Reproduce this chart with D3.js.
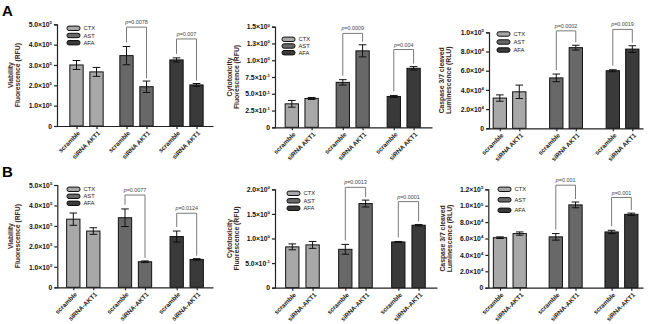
<!DOCTYPE html>
<html>
<head>
<meta charset="utf-8">
<script src="https://cdn.jsdelivr.net/npm/d3@7"></script>
<style>
  body { margin: 0; background: #fff; }
  svg { display: block; font-family: Arial, "Liberation Sans", sans-serif; }
</style>
</head>
<body>
<script>
// groups and conditions
const groups = ["CTX", "AST", "AFA"];
const conditions = ["scramble", "siRNA-AKT1"];
const colors = ["#a8a8a8", "#686868", "#3a3a3a"];

// values, order: CTX-scr, CTX-si, AST-scr, AST-si, AFA-scr, AFA-si
const viabA = [3.0e5, 2.66e5, 3.46e5, 1.93e5, 3.25e5, 2.02e5];
const viabAErr = [0.22e5, 0.22e5, 0.45e5, 0.28e5, 0.1e5, 0.07e5];
const cytoA = [0.35, 0.43, 0.67, 1.14, 0.46, 0.88];
const cytoAErr = [0.05, 0.015, 0.04, 0.09, 0.015, 0.025];
const caspA = [3.15e4, 3.8e4, 5.25e4, 8.4e4, 6.0e4, 8.25e4];
const caspAErr = [0.33e4, 0.7e4, 0.4e4, 0.25e4, 0.1e4, 0.35e4];

const viabB = [3.33e5, 2.75e5, 3.4e5, 1.25e5, 2.48e5, 1.36e5];
const viabBErr = [0.3e5, 0.16e5, 0.43e5, 0.04e5, 0.27e5, 0.04e5];
const cytoB = [0.83, 0.87, 0.78, 1.71, 0.93, 1.27];
const cytoBErr = [0.06, 0.07, 0.1, 0.07, 0.01, 0.015];
const caspB = [6.1e4, 6.6e4, 6.2e4, 10.1e4, 6.8e4, 8.95e4];
const caspBErr = [0.1e4, 0.2e4, 0.4e4, 0.35e4, 0.2e4, 0.15e4];

// significance brackets (AST, AFA): p text and top level in data units
const pA1 = ["p=0.0078", "p=0.007"],  topA1 = [4.86e5, 4.28e5];
const pA2 = ["p=0.0009", "p=0.004"],  topA2 = [1.40, 1.16];
const pA3 = ["p=0.0002", "p=0.0019"], topA3 = [10.15e4, 10.3e4];
const pB1 = ["p=0.0077", "p=0.0124"], topB1 = [4.51e5, 3.62e5];
const pB2 = ["p=0.0013", "p=0.0001"], topB2 = [2.04, 1.75];
const pB3 = ["p=0.001", "p=0.001"],   topB3 = [12.5e4, 11.0e4];

// y ticks
const viabTicks = [0, 1e5, 2e5, 3e5, 4e5, 5e5];
const viabLabels = ["0", "1.0×10^5", "2.0×10^5", "3.0×10^5", "4.0×10^5", "5.0×10^5"];
const cytoATicks = [0, 0.25, 0.5, 0.75, 1.0, 1.25, 1.5];
const cytoALabels = ["0", "2.5×10^-1", "5.0×10^-1", "7.5×10^-1", "1.0×10^0", "1.3×10^0", "1.5×10^0"];
const caspATicks = [0, 2e4, 4e4, 6e4, 8e4, 1e5];
const caspALabels = ["0", "2.0×10^4", "4.0×10^4", "6.0×10^4", "8.0×10^4", "1.0×10^5"];
const cytoBTicks = [0, 0.5, 1.0, 1.5, 2.0];
const cytoBLabels = ["0", "5.0×10^-1", "1.0×10^0", "1.5×10^0", "2.0×10^0"];
const caspBTicks = [0, 2e4, 4e4, 6e4, 8e4, 1e5, 1.2e5];
const caspBLabels = ["0", "2.0×10^4", "4.0×10^4", "6.0×10^4", "8.0×10^4", "1.0×10^5", "1.2×10^5"];

const viabTitle = ["Viability", "Fluorescence (RFU)"];
const cytoTitle = ["Cytotoxicity", "Fluorescence (RFU)"];
const caspTitle = ["Caspase 3/7 cleaved", "Luminescence (RLU)"];

// layout of each panel (pixels)
const panels = [
  {vals: viabA, err: viabAErr, ticks: viabTicks, labels: viabLabels, title: viabTitle, p: pA1, top: topA1,
   x0: 57, x1: 213, yTop: 24.3, yBot: 126, first: 76.5, pair: 20, grp: 50, legX: 67, legY: 28.3, legDy: 7.2, titleX: 13, si: "siRNA AKT1"},
  {vals: cytoA, err: cytoAErr, ticks: cytoATicks, labels: cytoALabels, title: cytoTitle, p: pA2, top: topA2,
   x0: 275, x1: 432, yTop: 26.7, yBot: 127.3, first: 291.8, pair: 19.8, grp: 51, legX: 282, legY: 39.3, legDy: 6.7, titleX: 232, si: "siRNA AKT1"},
  {vals: caspA, err: caspAErr, ticks: caspATicks, labels: caspALabels, title: caspTitle, p: pA3, top: topA3,
   x0: 489, x1: 643, yTop: 32.3, yBot: 128.3, first: 499.8, pair: 19.5, grp: 56.5, legX: 497, legY: 34, legDy: 8, titleX: 443.5, si: "siRNA AKT1"},
  {vals: viabB, err: viabBErr, ticks: viabTicks, labels: viabLabels, title: viabTitle, p: pB1, top: topB1,
   x0: 57.3, x1: 213, yTop: 185, yBot: 287.3, first: 73.3, pair: 20, grp: 51.7, legX: 67, legY: 189.3, legDy: 7, titleX: 13, si: "siRNA-AKT1"},
  {vals: cytoB, err: cytoBErr, ticks: cytoBTicks, labels: cytoBLabels, title: cytoTitle, p: pB2, top: topB2,
   x0: 275, x1: 437, yTop: 189.3, yBot: 287.7, first: 292.3, pair: 20.3, grp: 53, legX: 287, legY: 193.3, legDy: 7.5, titleX: 232, si: "siRNA-AKT1"},
  {vals: caspB, err: caspBErr, ticks: caspBTicks, labels: caspBLabels, title: caspTitle, p: pB3, top: topB3,
   x0: 488.3, x1: 643, yTop: 189.3, yBot: 287.7, first: 500, pair: 19.7, grp: 55.8, legX: 498, legY: 189.3, legDy: 10.5, titleX: 445, si: "siRNA-AKT1"}
];

const svg = d3.select("body").append("svg")
  .attr("width", 650).attr("height", 324);

// panel letters
svg.append("text").attr("x", 2).attr("y", 15.5).attr("font-size", 15).attr("font-weight", "bold").text("A");
svg.append("text").attr("x", 2).attr("y", 176.5).attr("font-size", 15).attr("font-weight", "bold").text("B");

const barW = 13.3;

panels.forEach(P => {
  const g = svg.append("g");

  const y = d3.scaleLinear()
    .domain([0, d3.max(P.ticks)])
    .range([P.yBot, P.yTop]);

  const gStart = P.first + P.pair / 2 - P.grp / 2;
  const outer = d3.scaleBand().domain(groups).range([gStart, gStart + 3 * P.grp]);
  const inner = d3.scaleBand().domain(conditions)
    .range([P.grp / 2 - P.pair, P.grp / 2 + P.pair]);
  const cx = (gi, ci) => outer(groups[gi]) + inner(conditions[ci]) + inner.bandwidth() / 2;

  // rows: one per bar
  const rows = P.vals.map((v, i) => ({g: Math.floor(i / 2), c: i % 2, v: v, e: P.err[i]}));

  // bars
  g.selectAll("rect.bar").data(rows).join("rect")
    .attr("class", "bar")
    .attr("x", d => cx(d.g, d.c) - barW / 2)
    .attr("width", barW)
    .attr("y", d => y(d.v))
    .attr("height", d => P.yBot - y(d.v))
    .attr("fill", d => colors[d.g])
    .attr("stroke", "#111")
    .attr("stroke-width", 1);

  // error bars
  const eb = g.selectAll("g.err").data(rows).join("g").attr("class", "err")
    .attr("stroke", "#111").attr("stroke-width", 1);
  eb.append("line")
    .attr("x1", d => cx(d.g, d.c)).attr("x2", d => cx(d.g, d.c))
    .attr("y1", d => y(d.v + d.e)).attr("y2", d => y(d.v - d.e));
  eb.append("line")
    .attr("x1", d => cx(d.g, d.c) - 3.8).attr("x2", d => cx(d.g, d.c) + 3.8)
    .attr("y1", d => y(d.v + d.e)).attr("y2", d => y(d.v + d.e));
  eb.append("line")
    .attr("x1", d => cx(d.g, d.c) - 3.8).attr("x2", d => cx(d.g, d.c) + 3.8)
    .attr("y1", d => y(d.v - d.e)).attr("y2", d => y(d.v - d.e));

  // y axis
  const yAxis = d3.axisLeft(y).tickValues(P.ticks).tickSize(3).tickPadding(2);
  const ya = g.append("g").attr("transform", `translate(${P.x0},0)`).call(yAxis);
  ya.select(".domain").attr("stroke", "#222").attr("stroke-width", 1.2);
  ya.selectAll(".tick line").attr("stroke", "#222").attr("stroke-width", 1.2);
  ya.selectAll(".tick text")
    .attr("font-size", 6.8).attr("font-weight", "bold").attr("fill", "#111")
    .attr("font-family", "Arial, 'Liberation Sans', sans-serif")
    .each(function (d, i) {
      const parts = P.labels[i].split("^");
      const t = d3.select(this).text(parts[0]);
      if (parts[1]) t.append("tspan").attr("dy", -2.8).attr("font-size", 4.3).text(parts[1]);
    });

  // x axis line + ticks
  const xs = d3.scaleLinear().domain([P.x0, P.x1]).range([P.x0, P.x1]);
  const xAxis = d3.axisBottom(xs).tickValues(rows.map(d => cx(d.g, d.c)))
    .tickSize(3).tickSizeOuter(0).tickFormat("");
  const xa = g.append("g").attr("transform", `translate(0,${P.yBot})`).call(xAxis);
  xa.select(".domain").attr("stroke", "#222").attr("stroke-width", 1.2);
  xa.selectAll(".tick line").attr("stroke", "#222").attr("stroke-width", 1.2);

  // rotated category labels
  g.selectAll("text.xl").data(rows).join("text")
    .attr("class", "xl")
    .attr("transform", d => `translate(${cx(d.g, d.c) + 2.5},${P.yBot + 6}) rotate(-45)`)
    .attr("text-anchor", "end")
    .attr("dy", "0.35em")
    .attr("font-size", 6.3).attr("font-weight", "bold").attr("fill", "#221a12")
    .text(d => d.c === 0 ? "scramble" : P.si);

  // y title
  const midY = (P.yTop + P.yBot) / 2;
  P.title.forEach((t, k) => {
    g.append("text")
      .attr("transform", `translate(${P.titleX + k * 7.3},${midY}) rotate(-90)`)
      .attr("text-anchor", "middle")
      .attr("font-size", 6.8).attr("font-weight", "bold").attr("fill", "#3a2616")
      .text(t);
  });

  // legend
  groups.forEach((name, k) => {
    const ly = P.legY + k * P.legDy;
    g.append("rect")
      .attr("x", P.legX).attr("y", ly - 2.2)
      .attr("width", 13).attr("height", 4.4).attr("rx", 2)
      .attr("fill", colors[k]).attr("stroke", "#111").attr("stroke-width", 1);
    g.append("text")
      .attr("x", P.legX + 16.5).attr("y", ly).attr("dy", "0.35em")
      .attr("font-size", 5.8).attr("fill", "#222")
      .text(name);
  });

  // significance brackets for AST and AFA
  [1, 2].forEach((gi, k) => {
    const l = rows[gi * 2], r = rows[gi * 2 + 1];
    const xl = cx(gi, 0), xr = cx(gi, 1);
    const yt = y(P.top[k]);
    const yl = y(l.v + l.e) - 4, yr = y(r.v + r.e) - 3;
    g.append("path")
      .attr("d", `M${xl},${yl}V${yt}H${xr}V${yr}`)
      .attr("fill", "none").attr("stroke", "#7a7a7a").attr("stroke-width", 1);
    const txt = g.append("text")
      .attr("x", (xl + xr) / 2).attr("y", yt - 3)
      .attr("text-anchor", "middle")
      .attr("font-size", 5.4).attr("fill", "#444");
    txt.append("tspan").attr("font-style", "italic").text("p");
    txt.append("tspan").text(P.p[k].slice(1));
  });
});
</script>
</body>
</html>
